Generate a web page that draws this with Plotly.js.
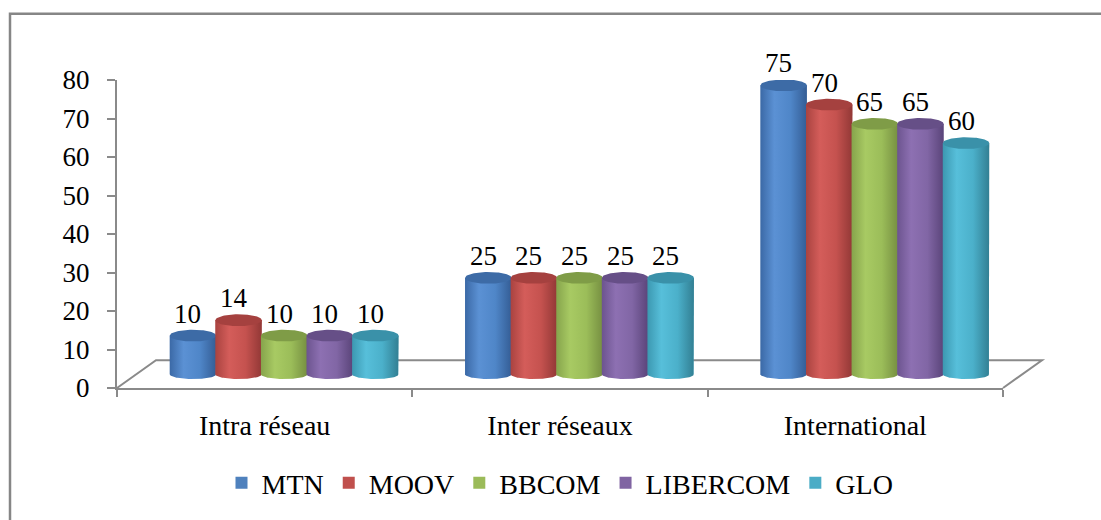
<!DOCTYPE html>
<html>
<head>
<meta charset="utf-8">
<script src="https://cdn.plot.ly/plotly-3.0.1.min.js"></script>
<style>html,body{margin:0;padding:0;background:#fff;}#chart{width:1101px;height:520px;}</style>
</head>
<body>
<div id="chart"></div>
<script>
// ---- data ----
const categories = ['Intra réseau', 'Inter réseaux', 'International'];
const seriesNames = ['MTN', 'MOOV', 'BBCOM', 'LIBERCOM', 'GLO'];
const mtn = [10, 25, 75];
const moov = [14, 25, 70];
const bbcom = [10, 25, 65];
const libercom = [10, 25, 65];
const glo = [10, 25, 60];
const yTicks = [0, 10, 20, 30, 40, 50, 60, 70, 80];

// ---- styling / geometry ----
const seriesValues = [mtn, moov, bbcom, libercom, glo];
const baseColors = ['#4F81BD', '#C0504D', '#9BBB59', '#8064A2', '#4BACC6'];
const bodyScales = [
  ['#3b69a6', '#5b91d4', '#4f86c8', '#345d95'],
  ['#a94340', '#d45d5a', '#c5524f', '#923836'],
  ['#86a44c', '#a8ca63', '#9bbd59', '#768f41'],
  ['#6c548f', '#8d70b2', '#8166a5', '#5a4479'],
  ['#3c98b1', '#57bfda', '#4bb0ca', '#327f93']
];
const capColors = ['#3d6ba6', '#a5413f', '#7f9c47', '#664f87', '#3a91a9'];
const W = 1101, H = 520;
const L = 117, R = 1003, T = 80, B = 391;
const catPx = (R - L) / 3;
const unitPx = (B - T) / 80;
const dx = 19.5, dy = 14;           // mid-depth offset of the bars
const barPx = 45.6;
const bw = barPx / catPx;           // bar width in category units
const ryTop = 6 / unitPx, ryBot = 5 / unitPx;
const FONT = "'Liberation Serif', 'Times New Roman', serif";
const gray = '#8a8a8a';
const px2x = p => (p - L) / (R - L);
const px2y = p => (B - p) / (B - T);

const traces = [];
// invisible anchor trace so that the front-plane axes are drawn
traces.push({
  type: 'scatter', mode: 'markers', x: [0, 1, 2], y: [0, 0, 0], xaxis: 'x', yaxis: 'y',
  marker: {opacity: 0, size: 1}, showlegend: false, hoverinfo: 'skip'
});
// flat bars (legend + base)
seriesNames.forEach((name, i) => {
  traces.push({
    type: 'bar', name: name, x: [0, 1, 2], y: seriesValues[i],
    xaxis: 'x2', yaxis: 'y2',
    marker: {color: baseColors[i], line: {width: 0}},
    hoverinfo: 'skip'
  });
});
// cylinder shading overlays
const annotations = [];
const N = 48;
for (let c = 0; c < categories.length; c++) {
  for (let i = 0; i < seriesNames.length; i++) {
    const h = seriesValues[i][c];
    const cx = c + (i - 2) * bw;
    const hw = bw * 1.02 / 2;
    const bx = [cx - hw, cx - hw, cx + hw, cx + hw];
    const by = [0, h, h, 0];
    for (let k = 0; k <= N; k++) {
      const t = Math.PI * k / N;
      bx.push(cx + hw * Math.cos(t));
      by.push(-ryBot * Math.sin(t));
    }
    const sc = bodyScales[i];
    traces.push({
      type: 'scatter', mode: 'lines', x: bx, y: by, xaxis: 'x2', yaxis: 'y2',
      fill: 'toself', line: {width: 0, color: 'rgba(0,0,0,0)'},
      fillgradient: {type: 'horizontal', colorscale: [[0, sc[0]], [0.3, sc[1]], [0.65, sc[2]], [1, sc[3]]]},
      showlegend: false, hoverinfo: 'skip', cliponaxis: false
    });
    const ex = [], ey = [];
    for (let k = 0; k <= N * 2; k++) {
      const t = Math.PI * k / N;
      ex.push(cx + hw * Math.cos(t));
      ey.push(h + ryTop * Math.sin(t));
    }
    traces.push({
      type: 'scatter', mode: 'lines', x: ex, y: ey, xaxis: 'x2', yaxis: 'y2',
      fill: 'toself', fillcolor: capColors[i], line: {width: 0, color: 'rgba(0,0,0,0)'},
      showlegend: false, hoverinfo: 'skip', cliponaxis: false
    });
    annotations.push({
      xref: 'x2', yref: 'y2', x: cx, y: h, text: String(h), showarrow: false,
      xshift: -5, yshift: 22, font: {family: FONT, size: 27, color: '#000'}
    });
  }
}

const floorPath = 'M' + px2x(L) + ',' + px2y(B) +
  ' L' + px2x(L + 2 * dx) + ',' + px2y(B - 2 * dy) +
  ' L' + px2x(R + 2 * dx) + ',' + px2y(B - 2 * dy) +
  ' L' + px2x(R) + ',' + px2y(B);
const borderPath = 'M' + px2x(10) + ',' + px2y(540) + ' L' + px2x(10) + ',' + px2y(13) + ' L' + px2x(1120) + ',' + px2y(13);

const layout = {
  width: W, height: H,
  margin: {l: L, r: W - R, t: T, b: H - B, pad: 0},
  paper_bgcolor: '#fff', plot_bgcolor: 'rgba(0,0,0,0)',
  font: {family: FONT, size: 27, color: '#000'},
  barmode: 'group', bargap: 1 - 5 * bw, bargroupgap: 0,
  showlegend: true,
  legend: {orientation: 'h', x: px2x(560), xanchor: 'center', y: px2y(487), yanchor: 'middle',
           font: {family: FONT, size: 28, color: '#000'}, traceorder: 'normal', itemwidth: 30},
  xaxis: {
    type: 'linear', range: [-0.5, 2.5], tickmode: 'array', tickvals: [0, 1, 2], ticktext: categories,
    ticks: '', showgrid: false, zeroline: false, showline: true, linecolor: gray, linewidth: 2,
    ticklabelstandoff: 11, tickfont: {family: FONT, size: 28},
    minor: {tick0: 0.5, dtick: 1, ticks: 'outside', ticklen: 7, tickcolor: gray, tickwidth: 2, showgrid: false},
    fixedrange: true
  },
  yaxis: {
    range: [0, 80], tickmode: 'array', tickvals: yTicks, ticks: 'outside', ticklen: 8, tickcolor: gray, tickwidth: 2,
    showgrid: false, zeroline: false, showline: true, linecolor: gray, linewidth: 2,
    ticklabelstandoff: 12, tickfont: {family: FONT, size: 27}, fixedrange: true
  },
  xaxis2: {overlaying: 'x', range: [-0.5 - dx / catPx, 2.5 - dx / catPx], visible: false, fixedrange: true},
  yaxis2: {overlaying: 'y', range: [-dy / unitPx, 80 - dy / unitPx], visible: false, fixedrange: true},
  shapes: [
    {type: 'path', xref: 'paper', yref: 'paper', path: floorPath, line: {color: gray, width: 2}, layer: 'below'},
    {type: 'path', xref: 'paper', yref: 'paper', path: borderPath, line: {color: '#868686', width: 2.5}}
  ],
  annotations: annotations
};

Plotly.newPlot('chart', traces, layout, {displayModeBar: false, staticPlot: true});
</script>
</body>
</html>
